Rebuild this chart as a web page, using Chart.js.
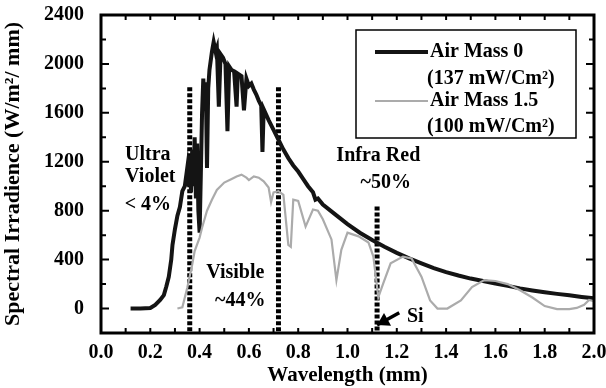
<!DOCTYPE html>
<html>
<head>
<meta charset="utf-8">
<script src="https://cdn.jsdelivr.net/npm/chart.js@4.4.1/dist/chart.umd.min.js"></script>
<style>
  html, body { margin: 0; padding: 0; background: #fff; }
  #wrap { width: 606px; height: 388px; }
</style>
</head>
<body>
<div id="wrap"><canvas id="chart" width="606" height="388"></canvas></div>
<script>
// ── Data ───────────────────────────────────────────────────────────────────

const AM0_WAVE = [0.12, 0.16, 0.20, 0.22, 0.24, 0.255, 0.265, 0.275, 0.285, 0.29, 0.30, 0.31, 0.32, 0.33,
  0.34, 0.35, 0.355, 0.36, 0.365, 0.37, 0.375, 0.38, 0.385, 0.39, 0.395, 0.40, 0.405, 0.41, 0.415,
  0.42, 0.425, 0.43, 0.435, 0.44, 0.45, 0.457, 0.465, 0.47, 0.478, 0.485, 0.495, 0.505, 0.513, 0.52,
  0.53, 0.54, 0.55, 0.555, 0.57, 0.58, 0.59, 0.60, 0.61, 0.62, 0.63, 0.64, 0.65, 0.655, 0.66, 0.68,
  0.70, 0.72, 0.74, 0.76, 0.78, 0.80, 0.82, 0.84, 0.86, 0.87, 0.88, 0.90, 0.95, 1.00, 1.05, 1.10,
  1.15, 1.20, 1.25, 1.30, 1.35, 1.40, 1.45, 1.50, 1.55, 1.60, 1.65, 1.70, 1.75, 1.80, 1.85, 1.90,
  1.95, 2.00];
const AM0_IRR = [0, 0, 5, 30, 70, 110, 180, 260, 400, 520, 650, 760, 830, 960,
  1000, 1150, 1000, 1250, 950, 1300, 1000, 1400, 900, 1350, 800, 620, 1100, 1600, 1880,
  1700, 1850, 1150, 1800, 1950, 2100, 2180, 2100, 2130, 1650, 2080, 2050, 2000, 1450, 1980,
  1950, 1940, 1650, 1920, 1900, 1620, 1880, 1820, 1840, 1790, 1750, 1700, 1660, 1280, 1630, 1540,
  1460, 1380, 1300, 1230, 1170, 1120, 1060, 1000, 950, 890, 900, 850, 770, 690, 620, 560,
  505, 455, 410, 370, 330, 298, 270, 245, 225, 205, 185, 165, 148, 133, 120, 108,
  95, 83];

const AM15_WAVE = [0.31, 0.33, 0.35, 0.37, 0.38, 0.40, 0.41, 0.43, 0.45, 0.47, 0.50, 0.53, 0.55, 0.57,
  0.59, 0.60, 0.62, 0.64, 0.66, 0.68, 0.69, 0.70, 0.72, 0.74, 0.76, 0.77, 0.78, 0.80, 0.83, 0.86,
  0.88, 0.90, 0.935, 0.955, 0.975, 1.00, 1.045, 1.085, 1.105, 1.125, 1.145, 1.175, 1.225, 1.26,
  1.30, 1.335, 1.365, 1.405, 1.46, 1.505, 1.555, 1.60, 1.65, 1.70, 1.75, 1.80, 1.85, 1.90, 1.93,
  1.96, 1.98, 2.00];
const AM15_IRR = [0, 10, 170, 360, 470, 580, 660, 800, 890, 970, 1030, 1060, 1080, 1095,
  1070, 1050, 1080, 1070, 1040, 990, 870, 950, 960, 930, 520, 505, 890, 880, 670, 810,
  800, 730, 565, 232, 480, 620, 590, 540, 425, 92, 205, 370, 425, 410,
  260, 66, 0, 0, 66, 175, 232, 225, 200, 150, 90, 20, -5, -5, 5,
  30, 70, 60];

// region boundaries (dashed lines)
const BOUND_WAVE = [0.36, 0.72, 1.12];
const BOUND_TOP  = [1810, 1810, 835];

const X_MIN = 0, X_MAX = 2.0;
const Y_MIN = -200, Y_MAX = 2400;

// annotation labels, placed in data coordinates
const NOTE_TEXT = ['Ultra', 'Violet', '< 4%', 'Visible', '~44%', 'Infra Red', '~50%', 'Si'];
const NOTE_WAVE = [0.19, 0.20, 0.19, 0.545, 0.565, 1.125, 1.155, 1.275];
const NOTE_IRR  = [1255, 1075, 850, 295, 60, 1245, 1030, -70];

const LEGEND_LINES = ['Air Mass 0', '(137 mW/Cm²)', 'Air Mass 1.5', '(100 mW/Cm²)'];

const FONT = 'Liberation Serif';
const AM0_COLOR = '#141414';
const AM15_COLOR = '#ababab';

const toPoints = (xs, ys) => xs.map((x, i) => ({ x, y: ys[i] }));

// ── Plugins ────────────────────────────────────────────────────────────────

// frame with inward ticks on all four sides
const framePlugin = {
  id: 'frame',
  afterDatasetsDraw(chart) {
    const { ctx, chartArea: a, scales: { x, y } } = chart;
    ctx.save();
    ctx.strokeStyle = '#000';
    ctx.lineWidth = 2;
    for (let i = 1; i < 20; i++) {
      const px = x.getPixelForValue(i / 10);
      const len = 5;
      ctx.beginPath();
      ctx.moveTo(px, a.bottom); ctx.lineTo(px, a.bottom - len);
      ctx.moveTo(px, a.top); ctx.lineTo(px, a.top + len);
      ctx.stroke();
    }
    for (let v = Y_MIN + 200; v < Y_MAX; v += 200) {
      const py = y.getPixelForValue(v);
      const len = v % 400 === 0 ? 8 : 5;
      ctx.beginPath();
      ctx.moveTo(a.left, py); ctx.lineTo(a.left + len, py);
      ctx.moveTo(a.right, py); ctx.lineTo(a.right - len, py);
      ctx.stroke();
    }
    ctx.lineWidth = 3;
    ctx.strokeRect(a.left, a.top, a.right - a.left, a.bottom - a.top);
    ctx.restore();
  }
};

// region labels + Si arrow
const notesPlugin = {
  id: 'notes',
  afterDatasetsDraw(chart) {
    const { ctx, scales: { x, y } } = chart;
    ctx.save();
    ctx.fillStyle = '#000';
    ctx.font = `bold 20px "${FONT}"`;
    ctx.textAlign = 'center';
    ctx.textBaseline = 'middle';
    NOTE_TEXT.forEach((t, i) => {
      ctx.fillText(t, x.getPixelForValue(NOTE_WAVE[i]), y.getPixelForValue(NOTE_IRR[i]));
    });

    // arrow pointing at the Si band edge
    const x0 = x.getPixelForValue(1.21), y0 = y.getPixelForValue(-35);
    const x1 = x.getPixelForValue(1.12), y1 = y.getPixelForValue(-135);
    const ang = Math.atan2(y1 - y0, x1 - x0);
    ctx.strokeStyle = '#000';
    ctx.lineWidth = 3.5;
    ctx.beginPath();
    ctx.moveTo(x0, y0); ctx.lineTo(x1, y1);
    ctx.stroke();
    ctx.beginPath();
    ctx.moveTo(x1, y1);
    ctx.lineTo(x1 - 14 * Math.cos(ang - 0.55), y1 - 14 * Math.sin(ang - 0.55));
    ctx.lineTo(x1 - 14 * Math.cos(ang + 0.55), y1 - 14 * Math.sin(ang + 0.55));
    ctx.closePath();
    ctx.fill();
    ctx.restore();
  }
};

// boxed legend in the top-right corner
const legendPlugin = {
  id: 'boxLegend',
  afterDatasetsDraw(chart) {
    const { ctx, chartArea: a } = chart;
    const left = a.right - 238, top = a.top + 15, w = 220, h = 108;
    ctx.save();
    ctx.fillStyle = '#fff';
    ctx.fillRect(left, top, w, h);
    ctx.strokeStyle = '#000';
    ctx.lineWidth = 1.5;
    ctx.strokeRect(left, top, w, h);

    const rowY = [top + 22, top + 49, top + 71, top + 97];
    ctx.lineWidth = 4;
    ctx.strokeStyle = AM0_COLOR;
    ctx.beginPath(); ctx.moveTo(left + 19, rowY[0]); ctx.lineTo(left + 72, rowY[0]); ctx.stroke();
    ctx.lineWidth = 2;
    ctx.strokeStyle = AM15_COLOR;
    ctx.beginPath(); ctx.moveTo(left + 19, rowY[2]); ctx.lineTo(left + 72, rowY[2]); ctx.stroke();

    ctx.fillStyle = '#000';
    ctx.font = `bold 20px "${FONT}"`;
    ctx.textBaseline = 'middle';
    ctx.textAlign = 'left';
    const rowX = [left + 74, left + 71, left + 74, left + 71];
    LEGEND_LINES.forEach((t, i) => ctx.fillText(t, rowX[i], rowY[i]));
    ctx.restore();
  }
};

// ── Chart ──────────────────────────────────────────────────────────────────

function boundaryDatasets() {
  return BOUND_WAVE.map((w, i) => ({
    data: [{ x: w, y: BOUND_TOP[i] }, { x: w, y: Y_MIN }],
    borderColor: '#000',
    borderWidth: 5,
    borderDash: [4, 2],
    pointRadius: 0,
    showLine: true,
  }));
}

function render() {
  Chart.defaults.font.family = FONT;
  Chart.defaults.font.weight = 'bold';
  Chart.defaults.color = '#000';

  new Chart(document.getElementById('chart'), {
    type: 'scatter',
    data: {
      datasets: [
        {
          label: 'Air Mass 1.5',
          data: toPoints(AM15_WAVE, AM15_IRR),
          borderColor: AM15_COLOR,
          borderWidth: 2.2,
          pointRadius: 0,
          showLine: true,
        },
        {
          label: 'Air Mass 0',
          data: toPoints(AM0_WAVE, AM0_IRR),
          borderColor: AM0_COLOR,
          borderWidth: 4,
          pointRadius: 0,
          showLine: true,
        },
        ...boundaryDatasets(),
      ],
    },
    options: {
      responsive: false,
      animation: false,
      layout: { padding: { top: 15, right: 12, left: 0, bottom: 0 } },
      plugins: { legend: { display: false }, tooltip: { enabled: false } },
      scales: {
        x: {
          type: 'linear',
          min: X_MIN, max: X_MAX,
          grid: { display: false, drawTicks: false },
          border: { display: false },
          ticks: {
            stepSize: 0.2, padding: 8,
            font: { size: 20, weight: 'bold' },
            callback: v => v.toFixed(1),
          },
          title: {
            display: true, text: 'Wavelength (mm)',
            font: { size: 21, weight: 'bold' }, padding: { top: 0, bottom: 0 },
          },
          afterFit: s => { s.height = 55; s.paddingLeft = 0; s.paddingRight = 0; },
        },
        y: {
          min: Y_MIN, max: Y_MAX,
          grid: { display: false, drawTicks: false },
          border: { display: false },
          ticks: {
            stepSize: 400, padding: 17,
            font: { size: 20, weight: 'bold' },
            callback: v => (v >= 0 && v % 400 === 0 ? v : ''),
          },
          title: {
            display: true, text: 'Spectral Irradience (W/m²/ mm)',
            font: { size: 22, weight: 'bold' }, padding: { top: 0, bottom: 0 },
          },
          afterFit: s => { s.width = 101; s.paddingTop = 0; s.paddingBottom = 0; },
        },
      },
    },
    plugins: [framePlugin, notesPlugin, legendPlugin],
  });
}

render();
</script>
</body>
</html>
